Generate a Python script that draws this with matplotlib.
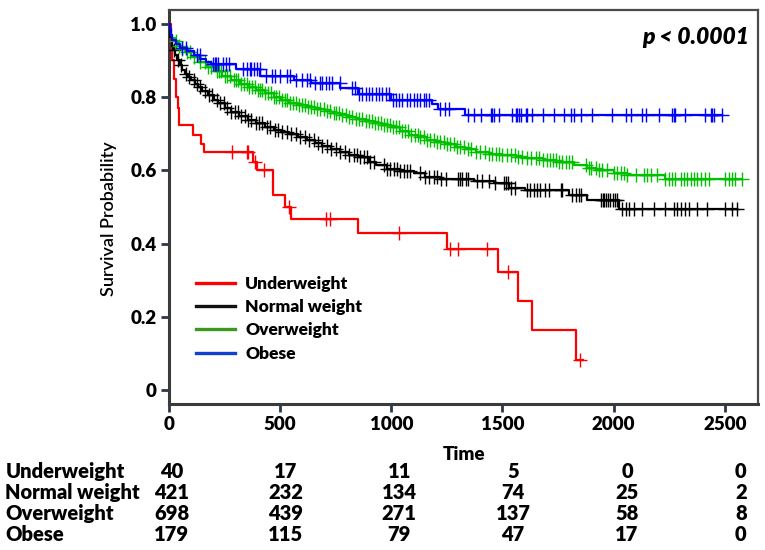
import numpy as np
import matplotlib
matplotlib.use("Agg")
import matplotlib.pyplot as plt
from matplotlib.lines import Line2D
import matplotlib.transforms as mtransforms

plt.rcParams['font.family'] = ['Lato', 'DejaVu Sans']
plt.rcParams['font.weight'] = 'heavy'
W = 'heavy'

# --- Kaplan-Meier steps ---
groups = ["Underweight", "Normal weight", "Overweight", "Obese"]
colors = ["#ff0000", "#000000", "#00c000", "#0000ff"]
legend_colors = ["#ff0000", "#111111", "#3a9a1f", "#1040d0"]

under_t = [0, 8, 15, 22, 30, 38, 43, 107, 145, 156, 376, 395, 466, 520, 549, 848, 1251, 1481, 1570, 1632, 1829]
under_s = [1.0, 0.95, 0.90, 0.85, 0.80, 0.77, 0.723, 0.696, 0.673, 0.649, 0.623, 0.600, 0.532, 0.50, 0.467, 0.429, 0.385, 0.321, 0.243, 0.164, 0.082]
under_end = 1860
under_cens = [281, 349, 357, 387, 427, 540, 707, 722, 1036, 1263, 1301, 1431, 1523, 1850]

normal_t = [0, 3, 6, 11, 18, 26, 35, 48, 60, 70, 85, 100, 115, 130, 150, 175, 200, 220, 250, 280, 315, 355,
            390, 430, 470, 505, 540, 580, 620, 655, 690, 730, 770, 810, 850, 900, 930, 980, 1040, 1100, 1150,
            1220, 1370, 1460, 1530, 1600, 1800, 1880, 2025]
normal_s = [1.0, 0.98, 0.965, 0.94, 0.928, 0.915, 0.90, 0.887, 0.874, 0.864, 0.855, 0.846, 0.837, 0.828, 0.817,
            0.805, 0.793, 0.783, 0.771, 0.76, 0.749, 0.738, 0.728, 0.718, 0.711, 0.705, 0.698, 0.691, 0.683, 0.675,
            0.667, 0.659, 0.65, 0.643, 0.635, 0.624, 0.615, 0.604, 0.599, 0.592, 0.583, 0.577, 0.57, 0.564, 0.553,
            0.547, 0.532, 0.519, 0.495]
normal_end = 2555
normal_cens = [20, 40, 55, 75, 90, 110, 125, 140, 160, 180, 195, 215, 230, 245, 260, 280, 295, 310, 325, 340, 355,
               370, 390, 405, 420, 440, 455, 475, 490, 510, 530, 550, 570, 590, 610, 630, 650, 670, 690, 710, 730,
               750, 770, 790, 810, 830, 845, 860, 875, 890, 905, 920, 965, 980, 995, 1010, 1025, 1040, 1055, 1070,
               1085, 1130, 1150, 1170, 1190, 1205, 1225, 1245, 1300, 1310, 1320, 1335, 1345, 1385, 1410, 1440, 1465,
               1505, 1515, 1525, 1540, 1555, 1610, 1625, 1640, 1655, 1670, 1690, 1710, 1762, 1769, 1814, 1829, 1844,
               1852, 1942, 1950, 1958, 1966, 1975, 1985, 1995, 2005, 2016, 2039, 2054, 2069, 2091, 2129, 2181, 2233,
               2271, 2286, 2301, 2323, 2338, 2376, 2421, 2503, 2533, 2555]

over_t = [0, 3, 8, 15, 25, 40, 55, 70, 100, 130, 170, 205, 240, 280, 320, 355, 390, 430, 470, 505, 540, 580, 620,
          655, 700, 730, 770, 805, 840, 880, 920, 960, 1000, 1040, 1080, 1120, 1160, 1200, 1240, 1290, 1330, 1380,
          1440, 1500, 1560, 1610, 1680, 1740, 1820, 1880, 1920, 2000, 2060, 2230]
over_s = [1.0, 0.985, 0.97, 0.96, 0.953, 0.94, 0.93, 0.922, 0.91, 0.897, 0.883, 0.87, 0.858, 0.847, 0.837, 0.828,
          0.819, 0.81, 0.80, 0.791, 0.784, 0.777, 0.772, 0.767, 0.761, 0.757, 0.751, 0.746, 0.741, 0.736, 0.73,
          0.724, 0.718, 0.708, 0.697, 0.69, 0.683, 0.677, 0.672, 0.664, 0.657, 0.651, 0.645, 0.641, 0.637, 0.634,
          0.629, 0.623, 0.614, 0.606, 0.600, 0.592, 0.588, 0.575]
over_end = 2578
over_cens = [30, 45, 60, 80, 95, 110, 140, 160, 175, 190, 215, 225, 235, 250, 262, 275, 290, 300, 312, 325, 338,
             350, 360, 372, 385, 398, 410, 420, 432, 445, 458, 470, 482, 495, 508, 520, 530, 545, 558, 570, 585,
             598, 612, 625, 640, 652, 665, 680, 695, 710, 725, 740, 752, 765, 780, 795, 810, 825, 840, 855, 870,
             885, 900, 912, 925, 940, 955, 968, 980, 995, 1008, 1020, 1035, 1048, 1060, 1075, 1090, 1105, 1118,
             1130, 1145, 1160, 1175, 1190, 1205, 1220, 1235, 1250, 1265, 1280, 1295, 1310, 1325, 1345, 1360, 1380,
             1400, 1420, 1440, 1455, 1470, 1485, 1500, 1520, 1540, 1555, 1570, 1590, 1610, 1630, 1650, 1665, 1680,
             1700, 1715, 1725, 1739, 1754, 1769, 1784, 1799, 1814, 1874, 1889, 1897, 1919, 1934, 1949, 1972, 2001,
             2016, 2031, 2046, 2061, 2099, 2136, 2151, 2166, 2196, 2233, 2248, 2263, 2278, 2301, 2316, 2331, 2346,
             2361, 2376, 2391, 2413, 2428, 2503, 2518, 2533, 2548, 2578]

obese_t = [0, 3, 8, 15, 30, 50, 80, 110, 140, 165, 190, 300, 410, 560, 640, 770, 850, 1000, 1185, 1210, 1330]
obese_s = [1.0, 0.985, 0.97, 0.955, 0.945, 0.935, 0.925, 0.915, 0.905, 0.895, 0.889, 0.876, 0.858, 0.846, 0.838,
           0.824, 0.808, 0.793, 0.78, 0.768, 0.752]
obese_end = 2488
obese_cens = [60, 75, 125, 139, 197, 205, 212, 220, 242, 255, 270, 333, 350, 362, 370, 380, 395, 407, 437, 462,
              477, 497, 530, 543, 570, 600, 620, 635, 655, 677, 690, 705, 720, 733, 767, 822, 836, 856, 870, 885,
              900, 915, 930, 945, 960, 975, 991, 1006, 1020, 1035, 1050, 1070, 1085, 1100, 1115, 1130, 1145, 1158,
              1170, 1220, 1240, 1261, 1343, 1373, 1403, 1448, 1455, 1463, 1485, 1545, 1560, 1567, 1575, 1582, 1605,
              1612, 1635, 1680, 1732, 1777, 1807, 1822, 1852, 1904, 1994, 2054, 2076, 2129, 2144, 2204, 2263, 2270,
              2278, 2323, 2413, 2436, 2443, 2450, 2488]

# number at risk table
risk_times = [0, 500, 1000, 1500, 2000, 2500]
risk_under = [40, 17, 11, 5, 0, 0]
risk_normal = [421, 232, 134, 74, 25, 2]
risk_over = [698, 439, 271, 137, 58, 8]
risk_obese = [179, 115, 79, 47, 17, 0]

curves = [
    (under_t, under_s, under_end, under_cens),
    (normal_t, normal_s, normal_end, normal_cens),
    (over_t, over_s, over_end, over_cens),
    (obese_t, obese_s, obese_end, obese_cens),
]
risk_rows = [risk_under, risk_normal, risk_over, risk_obese]

fig = plt.figure(figsize=(7.65, 5.5), dpi=100)
ax = fig.add_axes([0.221, 0.2655, 0.770, 0.7165])

for (t, s, end, cens), col in zip(curves, colors):
    t = np.array(t, dtype=float)
    s = np.array(s, dtype=float)
    ax.step(np.append(t, end), np.append(s, s[-1]), where='post', color=col, lw=1.6, zorder=3)
    c = np.array(cens, dtype=float)
    idx = np.searchsorted(t, c, side='right') - 1
    ax.plot(c, s[idx], linestyle='none', marker='+', markersize=10, markeredgewidth=1.0,
            color=col, zorder=3)

ax.set_xlim(0, 2650)
ax.set_ylim(-0.038, 1.038)
ax.set_xticks(risk_times)
ax.set_yticks([0, 0.2, 0.4, 0.6, 0.8, 1.0])
ax.set_yticklabels(["0", "0.2", "0.4", "0.6", "0.8", "1.0"])
ax.tick_params(axis='both', direction='out', length=6, width=2, color='#2b3848',
               labelsize=13.5, pad=3)
for lab in ax.get_xticklabels() + ax.get_yticklabels():
    lab.set_fontweight(W)
for side in ['left', 'bottom']:
    ax.spines[side].set_linewidth(2.2)
    ax.spines[side].set_color('#3a3a3a')
for side in ['top', 'right']:
    ax.spines[side].set_linewidth(1.6)
    ax.spines[side].set_color('#4a4a4a')

ax.set_xlabel("Time", fontsize=13.5, fontweight=W, labelpad=9)
ax.set_ylabel("Survival Probability", fontsize=13, fontweight='semibold')
ax.yaxis.set_label_coords(-0.088, 0.47)

ax.text(0.985, 0.930, "p < 0.0001", transform=ax.transAxes, ha='right', va='center',
        fontsize=16.5, fontweight=W, style='italic')

handles = [Line2D([0], [0], color=c, lw=2.4) for c in legend_colors]
ax.legend(handles, groups, loc='upper left', bbox_to_anchor=(0.02, 0.365), frameon=False,
          handlelength=2.2, handletextpad=0.6, labelspacing=0.42,
          prop={'weight': W, 'size': 12.5})

# risk table
trans = mtransforms.blended_transform_factory(ax.transData, fig.transFigure)
row_y = [0.142, 0.104, 0.066, 0.028]
col_x = np.array(risk_times) * 1.024 + 12
for name, row, y in zip(groups, risk_rows, row_y):
    fig.text(0.007, y, name, ha='left', va='center', fontsize=14.5, fontweight=W)
    for x, v in zip(col_x, row):
        ax.text(x, y, str(v), transform=trans, ha='center', va='center', fontsize=14.5,
                fontweight=W, clip_on=False)

fig.savefig("out.png", dpi=100)
